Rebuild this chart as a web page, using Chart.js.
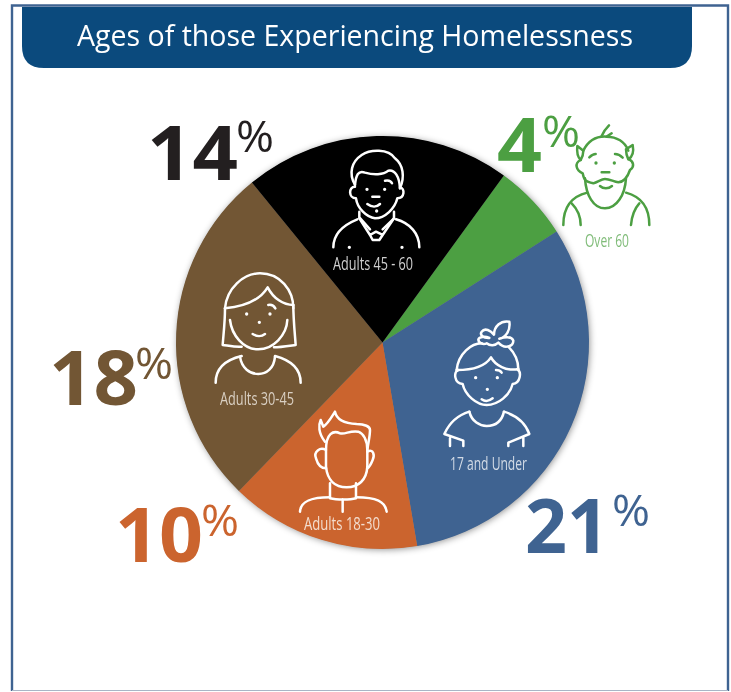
<!DOCTYPE html>
<html>
<head>
<meta charset="utf-8">
<script src="https://cdn.jsdelivr.net/npm/chart.js@4/dist/chart.umd.min.js"></script>
<style>
html,body{margin:0;padding:0;background:#fff;width:731px;height:692px;overflow:hidden}
#wrap{position:relative;width:731px;height:692px}
canvas,#overlay{position:absolute;left:0;top:0}
</style>
</head>
<body>
<div id="wrap">
<canvas id="c" width="731" height="692"></canvas>
<svg id="overlay" width="731" height="692" viewBox="0 0 731 692" xmlns="http://www.w3.org/2000/svg"></svg>
</div>
<script>
const titleText = "Ages of those Experiencing Homelessness";
const categories = ["Over 60", "17 and Under", "Adults 18-30", "Adults 30-45", "Adults 45 - 60"];
const values = [4, 21, 10, 18, 14];
const sliceColors = ["#4C9F42", "#3F6391", "#CB642E", "#725634", "#000000"];
const numberColors = ["#4C9F42", "#3F6391", "#CB642E", "#725634", "#231F20"];
const nameColors = ["#80BC79", "#D3DBE6", "#F3DCCD", "#D9CFC2", "#CFCFCF"];

/* layout of the annotation text: number x/width/baseline, % x/width/baseline, name x-left/x-width/baseline */
const numberPos = [[497,45,172],[525,84,553],[115,88,562],[49,89,405],[147,91,180]];
const percentPos = [[542,147],[612,526],[201,536],[135,379],[236,152]];
const namePos = [[585,44,247],[450,77,470],[304,76,530],[220,74,405],[333,80,270]];

const NS = "http://www.w3.org/2000/svg";
const overlay = document.getElementById("overlay");
function el(name, attrs, text, parent){
  const e = document.createElementNS(NS, name);
  for (const k in attrs) e.setAttribute(k, attrs[k]);
  if (text !== undefined) e.textContent = text;
  (parent || overlay).appendChild(e);
  return e;
}
/* frame and header */
el("path",{d:"M12 691 V5.5 H728 V691",fill:"none",stroke:"#3F6391","stroke-width":2.4});
el("path",{d:"M12 690.5 H728",fill:"none",stroke:"#A9B5C6","stroke-width":1.2});
el("path",{d:"M22 7 H692 V46 Q692 68 670 68 H44 Q22 68 22 46 Z",fill:"#0B4A7D"});
el("text",{x:77,y:46,fill:"#fff","font-family":"'Open Sans'","font-size":28.5,textLength:556,lengthAdjust:"spacingAndGlyphs"},titleText);

/* numbers */
categories.forEach((name,i)=>{
  el("text",{x:numberPos[i][0],y:numberPos[i][2],fill:numberColors[i],"font-family":"'Open Sans'","font-weight":700,"font-size":76,textLength:numberPos[i][1],lengthAdjust:"spacingAndGlyphs"},String(values[i]));
  el("text",{x:percentPos[i][0],y:percentPos[i][1],fill:numberColors[i],"font-family":"'Open Sans'","font-size":43,textLength:38,lengthAdjust:"spacingAndGlyphs"},"%");
  el("text",{x:namePos[i][0],y:namePos[i][2],fill:nameColors[i],"font-family":"'Liberation Sans Narrow','Open Sans'","font-size":17.5,textLength:namePos[i][1],lengthAdjust:"spacingAndGlyphs"},name);
});

/* line-art figures: paths in a 3x local grid */
const icons = [
 {at:[550,110],stroke:"#4C9F42",paths:[
  "M100 122C115 92 140 78 170 80C200 80 225 95 235 122",
  "M100 122L82 108C80 125 82 140 92 150C98 140 100 130 100 122",
  "M228 118L248 105C252 125 248 140 235 148C230 138 228 128 228 118",
  "M92 150C72 160 78 180 98 190C102 210 105 215 130 220C145 215 155 207 165 207C180 207 190 215 205 217C225 215 235 195 240 180C255 170 250 155 238 148",
  "M105 205C108 255 130 295 165 295C200 295 225 255 228 205",
  "M155 78C160 65 168 55 177 46M170 80L185 70",
  "M118 142C125 135 130 132 137 132M195 132C205 132 212 137 218 143",
  "M155 187H178M150 228C160 237 175 237 186 228",
  "M112 248C70 258 40 285 40 345M228 248C265 258 298 285 298 345",
  "M65 280C85 300 92 320 92 345M268 280C250 300 245 320 243 345"],
  dots:[[138,159],[193,159]]},
 {at:[430,310],stroke:"#fff",paths:[
  "M178 84C160 85 148 75 155 65C165 52 182 62 192 74C192 50 212 30 238 35C242 60 228 82 208 86C222 82 245 78 250 92C250 108 225 120 205 98C195 108 180 108 170 100C160 105 145 100 145 88C148 80 165 78 178 84Z",
  "M80 180C85 130 125 100 155 100M235 110C255 130 265 155 265 178",
  "M80 180C125 180 165 170 183 142C195 165 230 185 265 177",
  "M85 180C70 185 72 220 98 222C105 255 140 285 170 285C205 285 240 255 248 222C272 220 275 185 262 178",
  "M198 180C205 180 212 183 215 188M155 268C165 275 178 273 188 265",
  "M118 305C125 335 150 348 170 348C195 348 215 335 222 305",
  "M118 305C85 315 60 335 43 372L100 392V408M60 385V408",
  "M222 305C255 315 285 335 298 372L235 398V408M280 380V408"],
  dots:[[137,203],[202,203],[172,238]]},
 {at:[290,400],stroke:"#fff",paths:[
  "M105 125C85 100 85 75 92 60L100 80C115 70 125 50 135 35C140 60 165 70 200 72C225 72 240 80 240 90C240 110 235 125 232 150",
  "M108 150C108 100 130 90 150 100C165 105 180 90 205 95C220 100 232 120 232 150V200C230 240 205 262 170 262C135 262 112 240 108 200Z",
  "M108 150C90 140 70 155 78 175C85 200 100 205 108 205M232 155C250 145 255 165 248 180C240 200 232 205 232 205",
  "M120 250V295C140 300 180 300 198 295V250M158 298V335",
  "M30 335C32 305 60 292 120 292M290 335C285 305 260 292 198 292"],
  dots:[]},
 {at:[200,260],stroke:"#fff",paths:[
  "M75 145C80 85 130 40 180 40C240 40 280 90 280 145",
  "M75 145C130 140 180 120 203 82C220 115 250 135 280 135",
  "M75 145C75 190 70 225 68 255C90 258 110 262 125 260M280 135C280 180 285 225 287 255C265 258 240 262 222 262",
  "M90 180C95 225 130 268 175 268C220 268 260 225 262 180",
  "M205 135C215 133 222 138 226 145M158 222C170 230 185 230 195 222",
  "M120 290C125 325 150 342 175 342C200 342 222 325 225 290",
  "M125 288C75 300 47 325 47 368M225 288C270 300 302 325 302 368"],
  dots:[[140,162],[210,162],[178,187]]},
 {at:[320,130],stroke:"#fff",paths:[
  "M105 165C85 130 95 95 125 75C150 58 205 55 225 85C250 105 255 140 240 175",
  "M105 165C108 135 115 120 135 128C160 135 190 135 205 122C225 118 238 140 240 175",
  "M105 170C85 170 85 205 108 205C112 235 140 262 165 265C195 265 225 235 232 205C255 205 255 175 240 172",
  "M195 152C205 150 213 153 216 160M157 200H178M142 222C155 232 170 232 180 222",
  "M118 245V262L150 298M222 245V265L188 298",
  "M150 315L168 305L188 315L178 330H158ZM118 265L150 315M222 265L188 315",
  "M40 352C40 310 70 285 112 268M228 268C270 280 298 310 298 352"],
  dots:[[141,178],[194,178],[170,243],[88,352],[246,352]]}
];
icons.forEach(ic=>{
  const g = el("g",{transform:`translate(${ic.at[0]} ${ic.at[1]}) scale(0.3333)`,fill:"none",stroke:ic.stroke,"stroke-width":7.5,"stroke-linecap":"round","stroke-linejoin":"round"});
  ic.paths.forEach(d=>el("path",{d:d},undefined,g));
  ic.dots.forEach(p=>el("circle",{cx:p[0],cy:p[1],r:2.5,"stroke-width":5},undefined,g));
});

/* soft shadow under the whole pie */
const pieShadow = {
  id:"pieShadow",
  beforeDatasetsDraw(chart){
    const arc = chart.getDatasetMeta(0).data[0];
    const ctx = chart.ctx;
    ctx.save();
    ctx.shadowColor = "rgba(0,0,0,0.45)";
    ctx.shadowBlur = 7;
    ctx.shadowOffsetX = 1;
    ctx.shadowOffsetY = 1;
    ctx.fillStyle = "#888";
    ctx.beginPath();
    ctx.arc(arc.x, arc.y, arc.outerRadius - 0.5, 0, Math.PI * 2);
    ctx.fill();
    ctx.restore();
  }
};

new Chart(document.getElementById("c"), {
  type: "pie",
  data: {
    labels: categories,
    datasets: [{data: values, backgroundColor: sliceColors, borderWidth: 0}]
  },
  options: {
    responsive: false,
    animation: false,
    rotation: 36,
    layout: {padding: {left: 176, right: 142, top: 136, bottom: 143}},
    plugins: {legend: {display: false}, title: {display: false}, tooltip: {enabled: false}}
  },
  plugins: [pieShadow]
});
</script>
</body>
</html>
